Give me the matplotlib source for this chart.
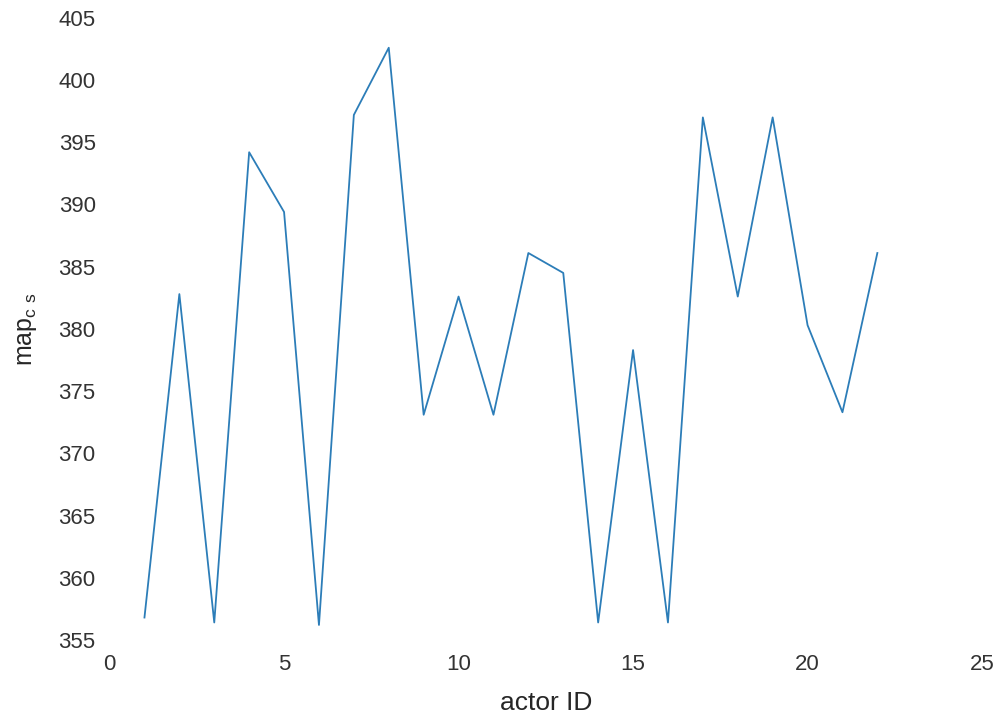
import matplotlib
matplotlib.use("Agg")
import matplotlib.pyplot as plt

actor_id = list(range(1, 23))
map_cs = [356.8, 382.8, 356.4, 394.2, 389.4, 356.2, 397.2, 402.6, 373.1, 382.6, 373.1,
          386.1, 384.5, 356.4, 378.3, 356.4, 397.0, 382.6, 397.0, 380.3, 373.3, 386.1]

plt.rcParams['font.family'] = ['Liberation Sans', 'DejaVu Sans']
plt.rcParams['mathtext.default'] = 'regular'

fig = plt.figure(figsize=(9.96, 7.15), dpi=100)
ax = fig.add_axes([0.110, 0.105, 0.876, 0.870])
ax.plot(actor_id, map_cs, color="#2c7db8", linewidth=1.3)

ax.set_xlim(0, 25)
ax.set_ylim(355, 405)
ax.set_xticks([0, 5, 10, 15, 20, 25])
ax.set_yticks(range(355, 406, 5))
for s in ax.spines.values():
    s.set_visible(False)
ax.tick_params(length=0, labelsize=16, labelcolor="#333333", pad=10)

ax.set_xlabel("actor ID", fontsize=19, color="#262626", labelpad=12)
ax.set_ylabel(r"map$_{c\ s}$", fontsize=18, color="#262626", labelpad=14)

fig.savefig("out.png", dpi=100)
